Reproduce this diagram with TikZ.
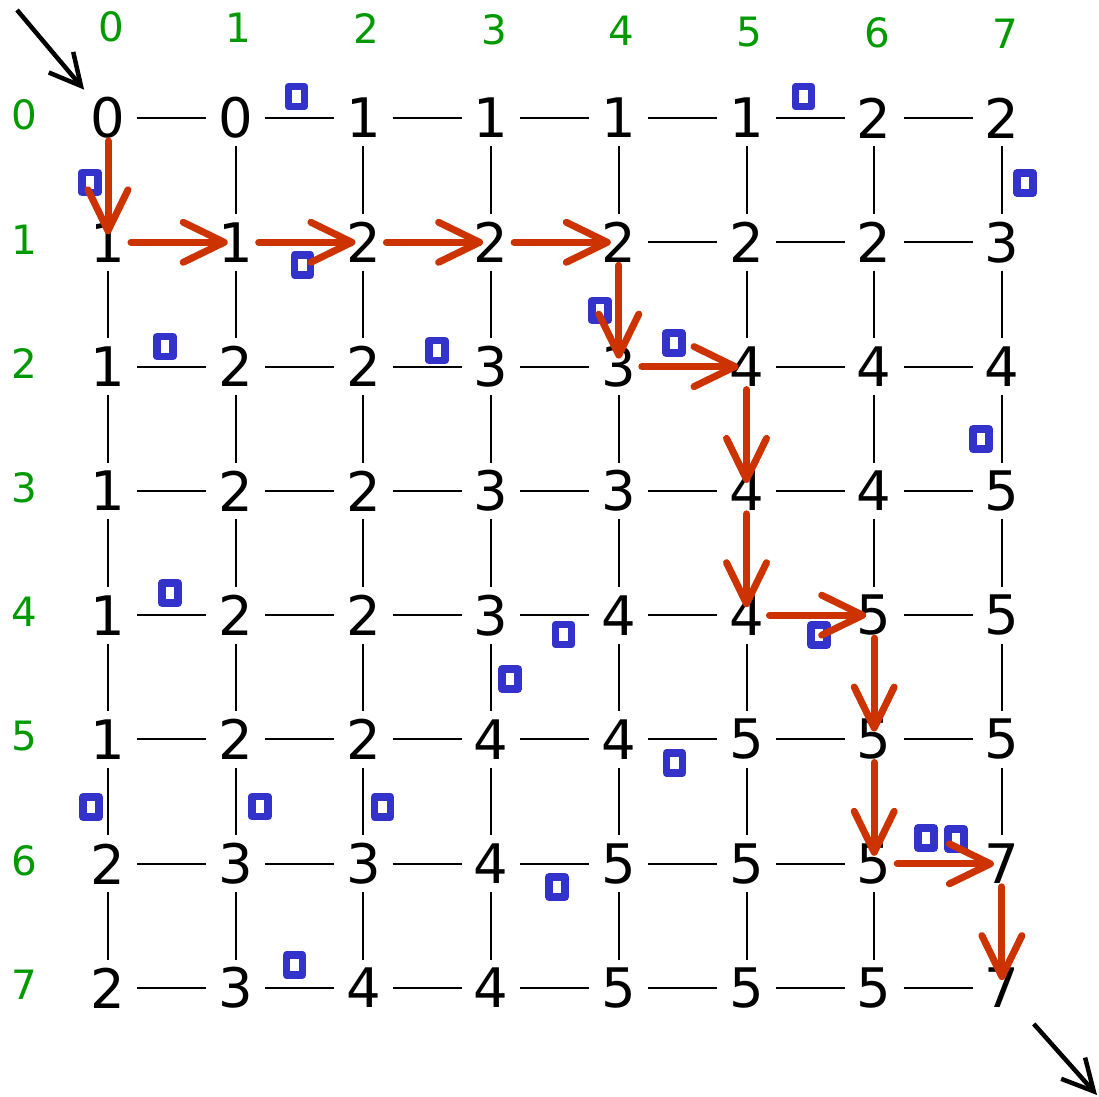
\documentclass[tikz,border=0pt]{standalone}
\usepackage{fontspec}
\setmainfont{DejaVu Sans}
\usetikzlibrary{arrows.meta}
\definecolor{pathred}{RGB}{204,51,0}
\definecolor{coinblue}{RGB}{51,51,204}
\definecolor{idxgreen}{RGB}{0,153,0}

\begin{document}
\begin{tikzpicture}[x=0.02cm, y=-0.02cm,
  cell/.style={inner sep=0pt, minimum width=1.16cm, minimum height=1.12cm,
    font=\fontsize{31}{31}\selectfont},
  idx/.style={inner sep=0pt, text=idxgreen, font=\fontsize{23}{23}\selectfont},
  link/.style={line width=0.04cm},
  coin/.style={draw=coinblue, line width=0.154cm, line join=round,
    inner sep=0pt, minimum width=0.316cm, minimum height=0.4cm},
  move/.style={draw=pathred, line width=0.14cm, line cap=round,
    -{Straight Barb[length=0.82cm, width=0.8cm, round]},
    shorten <=0.46cm, shorten >=0.16cm},
  entry/.style={line width=0.09cm, -{Straight Barb[length=0.62cm, width=0.64cm]}}]
  \useasboundingbox (0,0) rectangle (1099,1097);
  % 表格数字
  \foreach \vals [count=\r from 0] in {{0,0,1,1,1,1,2,2},{1,1,2,2,2,2,2,3},
      {1,2,2,3,3,4,4,4},{1,2,2,3,3,4,4,5},{1,2,2,3,4,4,5,5},
      {1,2,2,4,4,5,5,5},{2,3,3,4,5,5,5,7},{2,3,4,4,5,5,5,7}}
    \foreach \v [count=\c from 0] in \vals
      \node[cell] (n\r\c) at ({108+127.7*\c}, {118+124.3*\r}) {\v};
  % 行列序号
  \foreach \i in {0,...,7} {
    \node[idx] (col\i) at ({111+127.7*\i}, {27+\i}) {\i};
    \node[idx] (row\i) at (24, {115+124.3*\i}) {\i};
  }
  % 横线
  \foreach \r/\cs in {0/{0,...,6}, 1/{4,5,6}, 2/{0,1,2,3,5,6}, 3/{0,...,6},
      4/{0,1,2,3,4,6}, 5/{0,...,6}, 6/{0,...,5}, 7/{0,...,6}}
    \foreach \c in \cs {
      \pgfmathtruncatemacro\cn{\c+1}
      \draw[link] (n\r\c) -- (n\r\cn);
    }
  % 竖线
  \foreach \c/\rs in {0/{1,...,6}, 1/{0,...,6}, 2/{0,...,6}, 3/{0,...,6},
      4/{0,2,3,4,5,6}, 5/{0,1,4,5,6}, 6/{0,1,2,3,6}, 7/{0,...,5}}
    \foreach \r in \rs {
      \pgfmathtruncatemacro\rn{\r+1}
      \draw[link] (n\r\c) -- (n\rn\c);
    }
  % 金币
  \foreach \x/\y [count=\k] in {296.5/96.5, 803.5/96.5, 90/182.5, 1025/183,
      302.5/265, 600/310.5, 674/343, 165/346.5, 437/350.5, 981/439,
      170/593, 563.5/634.5, 819/635, 510/679, 674.5/763, 91/807,
      260/806.5, 382.5/807, 926/838, 956/839, 557/887, 294.5/965}
    \node[coin] (k\k) at (\x,\y) {};
  % 路径
  \foreach \a/\b in {00/10, 10/11, 11/12, 12/13, 13/14, 14/24, 24/25,
      25/35, 35/45, 45/46, 46/56, 56/66, 66/67, 67/77}
    \draw[move] (n\a.center) -- (n\b.center);
  % 入口和出口
  \coordinate (start) at (17,10);
  \coordinate (finish) at (1097,1095);
  \draw[entry] (start) -- (n00);
  \draw[entry, shorten <=0.2cm] (n77) -- (finish);
\end{tikzpicture}
\end{document}
